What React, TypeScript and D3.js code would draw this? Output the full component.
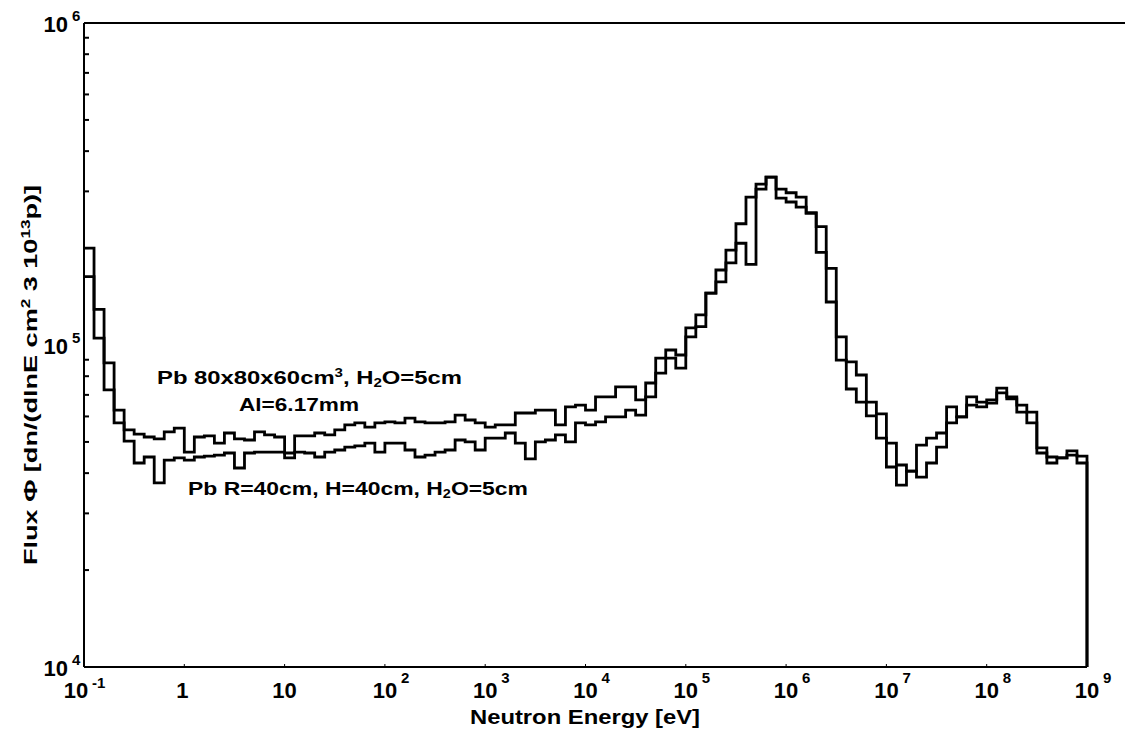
import React from 'react';
import * as d3 from 'd3';

// Histogram: 10 bins per decade from 10^-1 eV to 10^9 eV
const binsPerDecade = 10;
const eMinExp = -1;
const eMaxExp = 9;

// Pb 80x80x60 cm^3, H2O=5cm, Al=6.17mm
const seriesA = [
  200000, 129000, 88000, 62800, 54500, 52900, 51800, 51100, 53700, 55200,
  46500, 51800, 52200, 49600, 53300, 51100, 50700, 53700, 52600, 51800,
  44600, 52200, 52200, 53300, 52600, 54500, 56500, 57300, 55600, 57300,
  57700, 57300, 59300, 57700, 57300, 57300, 57700, 60600, 58500, 57300,
  55600, 56500, 56500, 61500, 61500, 62800, 62800, 56500, 64200, 65100,
  62800, 69000, 69000, 74100, 74100, 67500, 76200, 91100, 96500, 93100,
  113000, 124000, 145000, 171000, 197000, 238000, 288000, 316000, 332000, 305000,
  297000, 288000, 257000, 233000, 173000, 106000, 88600, 80700, 66500, 61100,
  49600, 42400, 40600, 48900, 51400, 53300, 64200, 59800, 69000, 66500,
  67500, 73500, 69000, 65100, 61900, 47900, 44900, 44600, 46900, 45200,
];

// Pb R=40cm, H=40cm, H2O=5cm
const seriesB = [
  163000, 105000, 72500, 57300, 50300, 43000, 44900, 37300, 43900, 44600,
  43900, 44900, 45200, 45500, 46200, 41500, 46200, 46500, 46500, 46500,
  46200, 46500, 46200, 44900, 46500, 47200, 48200, 48600, 49600, 46500,
  49600, 49600, 47200, 44900, 45500, 46500, 47200, 50700, 50000, 47200,
  51400, 51400, 53300, 49600, 44300, 50000, 50700, 52600, 50000, 57300,
  56500, 57700, 59800, 59800, 62800, 60600, 69000, 81800, 91100, 84800,
  106000, 114000, 145000, 157000, 180000, 207000, 178000, 305000, 332000, 286000,
  278000, 268000, 257000, 194000, 136000, 89800, 73000, 66500, 60200, 51400,
  41800, 36700, 40600, 38900, 43000, 48200, 57300, 59800, 65100, 64200,
  66000, 71000, 68000, 61900, 57300, 46200, 43000, 44600, 45500, 43000,
];

const xTickExps = [-1, 0, 1, 2, 3, 4, 5, 6, 7, 8, 9];
const yTickExps = [4, 5, 6];
const yMinorTicks = [20000, 30000, 40000, 50000, 60000, 70000, 80000, 90000,
  200000, 300000, 400000, 500000, 600000, 700000, 800000, 900000];

const xTitle = 'Neutron Energy [eV]';
const labelA1 = ['Pb 80x80x60cm', '3', ', H', '2', 'O=5cm'];
const labelA2 = 'Al=6.17mm';
const labelB = ['Pb R=40cm, H=40cm, H', '2', 'O=5cm'];

const FONT = '"Liberation Sans", Arial, Helvetica, sans-serif';

export default function App() {
  const W = 1131, H = 736;
  const left = 84, right = 1087, top = 23, bottom = 667;
  const x = d3.scaleLog().domain([Math.pow(10, eMinExp), Math.pow(10, eMaxExp)]).range([left, right]);
  const y = d3.scaleLog().domain([1e4, 1e6]).range([bottom, top]);

  const nBins = (eMaxExp - eMinExp) * binsPerDecade;
  const edges = d3.range(nBins + 1).map(k => Math.pow(10, eMinExp + k / binsPerDecade));

  const stepLine = d3.line<[number, number]>()
    .x(d => x(d[0]))
    .y(d => y(d[1]))
    .curve(d3.curveStepAfter);

  const makePath = (vals: number[]) => {
    const pts: [number, number][] = vals.map((v, i) => [edges[i], v]);
    pts.push([edges[nBins], vals[vals.length - 1]]);
    const p = stepLine(pts) || '';
    return p + `L${x(edges[nBins])},${y(1e4)}`;
  };

  return (
    <div style={{ position: 'absolute', left: 0, top: 0, width: W, height: H, background: '#fff' }}>
      <svg width={W} height={H} style={{ display: 'block' }} fontFamily={FONT}>
        <rect x={0} y={0} width={W} height={H} fill="#fff" />
        {/* frame */}
        <line x1={left} y1={top} x2={1125} y2={top} stroke="#000" strokeWidth={2} />
        <line x1={left} y1={top} x2={left} y2={bottom} stroke="#000" strokeWidth={2} />
        <line x1={left} y1={bottom} x2={right} y2={bottom} stroke="#000" strokeWidth={2} />

        {/* y minor ticks */}
        {yMinorTicks.map(v => (
          <line key={v} x1={left} x2={left + 5} y1={y(v)} y2={y(v)} stroke="#000" strokeWidth={2} />
        ))}
        {/* x decade ticks */}
        {xTickExps.map(e => (
          <line key={e} x1={x(Math.pow(10, e))} x2={x(Math.pow(10, e))} y1={bottom} y2={bottom - 3} stroke="#000" strokeWidth={1} />
        ))}

        {/* curves */}
        <path d={makePath(seriesA)} fill="none" stroke="#000" strokeWidth={2.8} strokeLinejoin="miter" />
        <path d={makePath(seriesB)} fill="none" stroke="#000" strokeWidth={2.8} strokeLinejoin="miter" />

        {/* x tick labels */}
        {xTickExps.map(e => {
          const tx = x(Math.pow(10, e));
          if (e === 0) {
            return <text key={e} x={tx - 2} y={698} fontSize={22} fontWeight="bold" textAnchor="middle">1</text>;
          }
          if (e === 1) {
            return <text key={e} x={tx} y={698} fontSize={22} fontWeight="bold" textAnchor="middle">10</text>;
          }
          const shift = e === -1 ? -8 : 0;
          return (
            <g key={e}>
              <text x={tx + shift} y={698} fontSize={22} fontWeight="bold" textAnchor="middle">10</text>
              <text x={tx + shift + 16} y={e === -1 ? 688 : 683} fontSize={15} fontWeight="bold">{String(e)}</text>
            </g>
          );
        })}

        {/* y tick labels */}
        {yTickExps.map(e => {
          const ty = y(Math.pow(10, e));
          return (
            <g key={e}>
              <text x={68} y={ty + 9} fontSize={22} fontWeight="bold" textAnchor="end">10</text>
              <text x={72} y={ty - 2} fontSize={15} fontWeight="bold">{String(e)}</text>
            </g>
          );
        })}

        {/* axis titles */}
        <text x={585} y={724} fontSize={20} fontWeight="bold" textAnchor="middle" textLength={230} lengthAdjust="spacingAndGlyphs">{xTitle}</text>
        <text transform="translate(37,375) rotate(-90)" fontSize={19} fontWeight="bold" textAnchor="middle" textLength={380} lengthAdjust="spacingAndGlyphs">
          <tspan>Flux Φ [dn/(dlnE cm</tspan>
          <tspan dy={-7} fontSize={12}>2</tspan>
          <tspan dy={7}> 3 10</tspan>
          <tspan dy={-7} fontSize={12}>13</tspan>
          <tspan dy={7}>p)]</tspan>
        </text>

        {/* annotations */}
        <text x={157} y={384} fontSize={19} fontWeight="bold" textLength={305} lengthAdjust="spacingAndGlyphs">
          <tspan>{labelA1[0]}</tspan>
          <tspan dy={-7} fontSize={12}>{labelA1[1]}</tspan>
          <tspan dy={7}>{labelA1[2]}</tspan>
          <tspan dy={3} fontSize={12}>{labelA1[3]}</tspan>
          <tspan dy={-3}>{labelA1[4]}</tspan>
        </text>
        <text x={239} y={411} fontSize={19} fontWeight="bold" textLength={120} lengthAdjust="spacingAndGlyphs">{labelA2}</text>
        <text x={188} y={495} fontSize={19} fontWeight="bold" textLength={340} lengthAdjust="spacingAndGlyphs">
          <tspan>{labelB[0]}</tspan>
          <tspan dy={3} fontSize={12}>{labelB[1]}</tspan>
          <tspan dy={-3}>{labelB[2]}</tspan>
        </text>
      </svg>
    </div>
  );
}
